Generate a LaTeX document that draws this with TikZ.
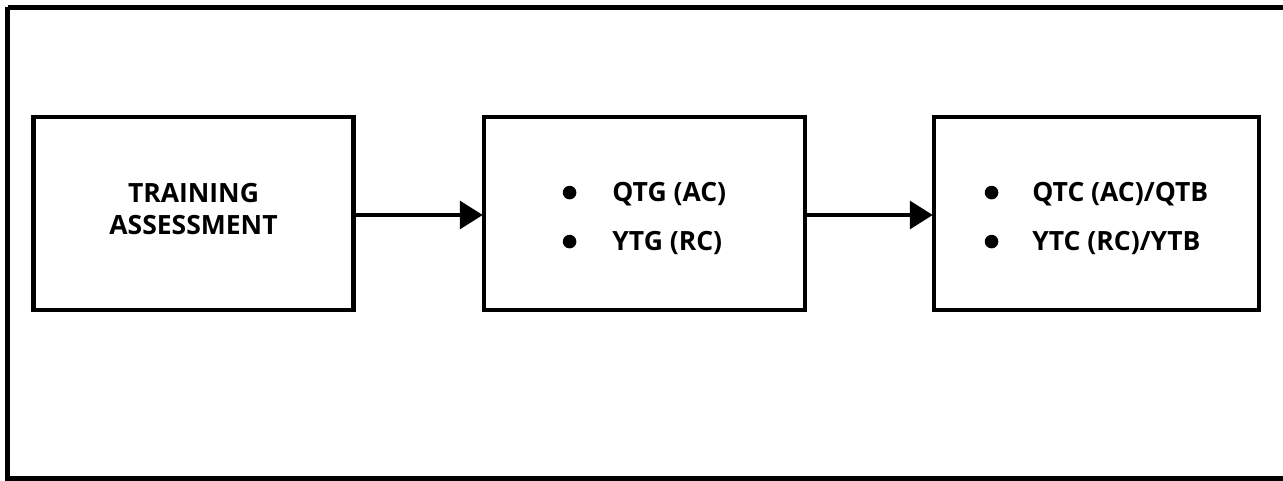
\documentclass[tikz,border=0pt]{standalone}
\usepackage{fontspec}
\setmainfont{Open Sans}
\usetikzlibrary{arrows.meta}
\newcommand\blt{\raisebox{2.5pt}{\tikz\fill (0,0) circle (6.8pt);}}
\tikzset{
  frameline/.style={line width=4.5pt},
  box/.style={draw, line width=4.5pt, minimum width=320pt, minimum height=193pt, inner sep=0pt,
    font=\fontsize{26.5}{32}\selectfont\bfseries, align=center},
  flow/.style={line width=3.5pt, -{Triangle[length=23pt,width=28pt]}, shorten >=-1pt},
}
\begin{document}
\begin{tikzpicture}[x=1pt,y=-1pt]
\useasboundingbox (0,0) rectangle (1283,481);
\draw[frameline] (7.5,7.5) -- (1300,7.5);
\draw[frameline] (7.5,7.5) -- (7.5,478.5) -- (1300,478.5);
\node[box] (a) at (193.5,213.5) {\raisebox{1pt}[\height][\depth]{%
  \begin{tabular}{@{}c@{}}TRAINING\\ASSESSMENT\end{tabular}}};
\node[box, minimum width=321pt] (b) at (644.5,213.5) {\raisebox{-6.5pt}[\height][\depth]{%
  \begin{tabular}{@{}l@{\hspace{36pt}}l@{}}
  \blt & QTG (AC)\\[17pt]
  \blt & YTG (RC)
  \end{tabular}}};
\node[box, minimum width=325pt] (c) at (1096.5,213.5) {\raisebox{-6.5pt}[\height][\depth]{%
  \begin{tabular}{@{}l@{\hspace{34pt}}l@{}}
  \blt & QTC (AC)/QTB\\[17pt]
  \blt & YTC (RC)/YTB
  \end{tabular}}};
\draw[flow] ([yshift=-1.5pt]a.east) -- ([yshift=-1.5pt]b.west);
\draw[flow] ([yshift=-1.5pt]b.east) -- ([yshift=-1.5pt]c.west);
\end{tikzpicture}
\end{document}
